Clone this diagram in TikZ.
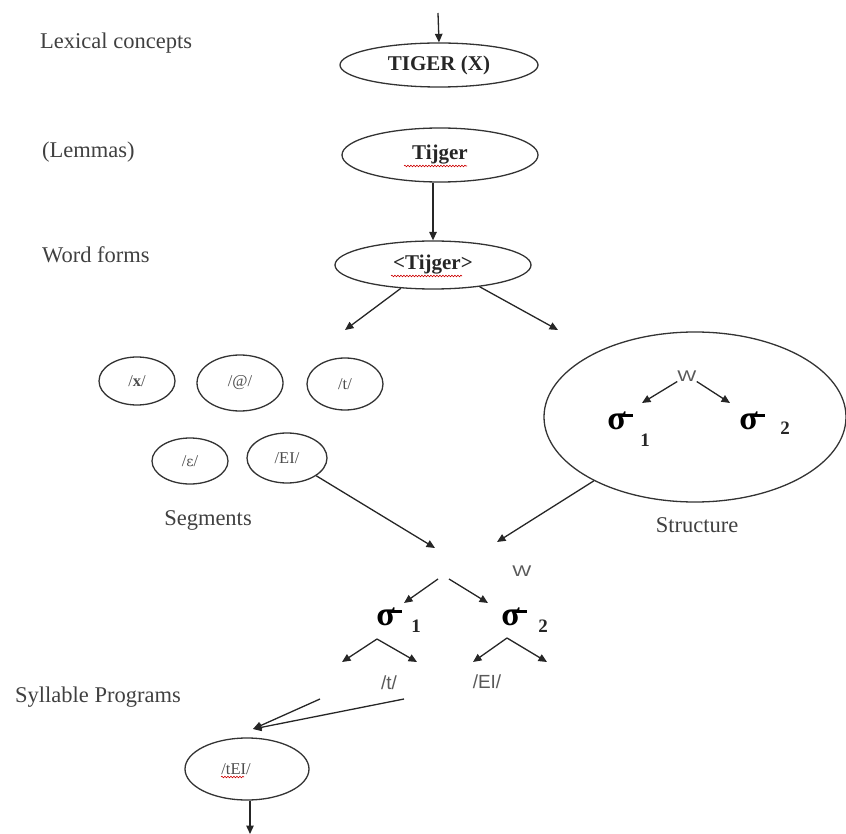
\documentclass[tikz,border=0pt]{standalone}
\usepackage{fontspec}
\setmainfont{Liberation Serif}
\setsansfont{Liberation Sans}
\newfontfamily\ipafont{DejaVu Serif}
\usetikzlibrary{arrows.meta,shapes.geometric,decorations.pathmorphing}
\newcommand{\mysig}{σ\kern-6pt\rule[12.2pt]{13pt}{3pt}}
\begin{document}
\begin{tikzpicture}[x=1pt,y=-1pt,
  arr/.style={-{Triangle[length=8.5pt,width=7.5pt]}, line width=1.3pt, draw=black!85},
  ell/.style={draw=black!80, ellipse, inner sep=0pt, line width=1.3pt},
  lbl/.style={font=\fontsize{22.5}{25}\selectfont, text=black!75, inner sep=0pt},
  bigtxt/.style={font=\bfseries\fontsize{21}{23}\selectfont, text=black!85},
  segtxt/.style={font=\fontsize{16.5}{18}\selectfont, text=black!70},
  sanstxt/.style={font=\sffamily\fontsize{19}{21}\selectfont, text=black!65, inner sep=0pt},
  wtxt/.style={font=\sffamily\fontsize{15.5}{17}\selectfont, text=black!65, inner sep=0pt, xscale=1.3},
  sig/.style={font=\bfseries\fontsize{34}{34}\selectfont, text=black, inner sep=0pt},
  num/.style={font=\bfseries\fontsize{19}{21}\selectfont, text=black!85, inner sep=0pt},
  wavy/.style={draw=red!80!black, line width=0.6pt, decorate, decoration={snake, amplitude=0.8pt, segment length=3pt}}
]
\useasboundingbox (0,0) rectangle (846,834);

% left labels
\node[lbl, anchor=west] (llex) at (40,43) {Lexical concepts};
\node[lbl, anchor=west] (llem) at (42,152) {(Lemmas)};
\node[lbl, anchor=west] (lwf) at (42,255) {Word forms};
\node[lbl, anchor=west] (lsyl) at (15,697) {Syllable Programs};
\node[lbl] (lseg) at (208,520) {Segments};
\node[lbl] (lstr) at (697,525) {Structure};

% main ellipses
\node[ell, minimum width=198pt, minimum height=44pt, bigtxt] (lex) at (439,65) {TIGER (X)};
\node[ell, minimum width=196pt, minimum height=54pt, bigtxt] (lem) at (440,155) {Tijger};
\node[ell, minimum width=196pt, minimum height=48pt, bigtxt] (wf) at (433,265) {<Tijger>};
\draw[wavy] (404,166) -- (467,166);
\draw[wavy] (391,276) -- (462,276);

% segments
\node[ell, minimum width=76pt, minimum height=48pt, segtxt] (sx) at (137,381) {/\textbf{x}/};
\node[ell, minimum width=86pt, minimum height=56pt, segtxt] (sat) at (240,383) {/@/};
\node[ell, minimum width=76pt, minimum height=52pt, segtxt] (st) at (345,384) {/t/};
\node[ell, minimum width=76pt, minimum height=46pt, segtxt] (seps) at (190,461) {/{\ipafont\fontsize{14}{16}\selectfont ɛ}/};
\node[ell, minimum width=80pt, minimum height=50pt, segtxt] (sEI) at (287,458) {/EI/};

% structure
\node[ell, minimum width=302pt, minimum height=170pt] (struct) at (695,417) {};
\node[wtxt] (Wa) at (687,376) {W};
\node[sig] (sa1) at (620,421) {\mysig};
\node[num] (na1) at (645,440) {1};
\node[sig] (sa2) at (752,421) {\mysig};
\node[num] (na2) at (785,428) {2};
\coordinate (wa1) at (642,403);
\coordinate (wa2) at (730,403);
\draw[arr] (Wa.south west) -- (wa1);
\draw[arr] (Wa.south east) -- (wa2);

% arrows top
\coordinate (top) at (438,13);
\draw[arr] (top) -- (lex.north);
\draw[arr] (lem.south -| wf.north) -- (wf.north);
\coordinate (wfl) at (345,330);
\coordinate (wfr) at (558,330);
\draw[arr] (wf.216) -- (wfl);
\draw[arr] (wf.335) -- (wfr);

% to syllable tree
\coordinate (segend) at (435,548);
\coordinate (strend) at (497,542);
\draw[arr] (sEI) -- (segend);
\draw[arr] (struct) -- (strend);

% lower tree
\node[wtxt] (Wb) at (522,571) {W};
\coordinate (ta1) at (438,579);
\coordinate (tb1) at (404,603);
\coordinate (ta2) at (449,579);
\coordinate (tb2) at (488,603);
\draw[arr] (ta1) -- (tb1);
\draw[arr] (ta2) -- (tb2);

\node[sig] (sb1) at (389,617) {\mysig};
\node[num] (nb1) at (416,626) {1};
\node[sig] (sb2) at (514,617) {\mysig};
\node[num] (nb2) at (543,626) {2};

\coordinate (ap1) at (377,639);
\coordinate (l1) at (342,662);
\coordinate (r1) at (417,662);
\draw[arr] (ap1) -- (l1);
\draw[arr] (ap1) -- (r1);
\coordinate (ap2) at (507,638);
\coordinate (l2) at (473,662);
\coordinate (r2) at (547,662);
\draw[arr] (ap2) -- (l2);
\draw[arr] (ap2) -- (r2);

\node[sanstxt] (tb) at (389,683) {/t/};
\node[sanstxt] (eb) at (487,682) {/EI/};

% syllable program
\node[ell, minimum width=124pt, minimum height=62pt, segtxt] (tEI) at (247,769) {\hspace*{-22pt}/tEI/};
\draw[wavy] (221,777) -- (244,777);
\coordinate (s1) at (320,699);
\coordinate (s2) at (404,699);
\coordinate (stip) at (253,729);
\draw[arr] (s1) -- (stip);
\draw[arr] (s2) -- (stip);
\coordinate (bot) at (250,834);
\draw[arr] (tEI.south -| bot) -- (bot);
\end{tikzpicture}
\end{document}
